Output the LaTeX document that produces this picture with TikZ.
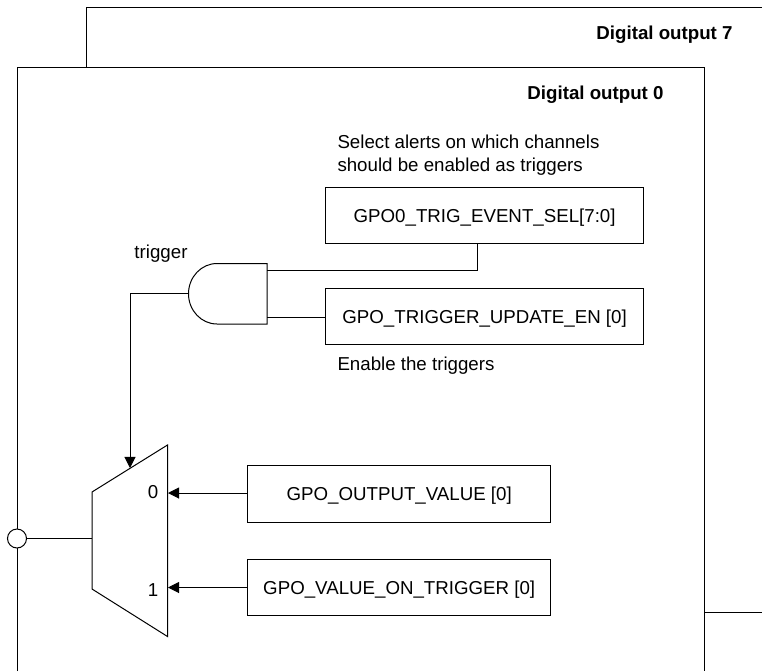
\documentclass[tikz,border=0pt]{standalone}
\usepackage{fontspec}
\setmainfont{Liberation Sans}
\usetikzlibrary{arrows.meta,positioning,calc}
\tikzset{every node/.append style={font=\fontsize{9.35}{11}\selectfont}}
\tikzset{label text/.style={text height=6.7pt,text depth=0pt},
	regbox/.style={draw,fill=white,minimum height=28.25pt,inner sep=0pt,label text},
	note/.style={inner sep=0pt,anchor=west,label text},
	title/.style={inner sep=0pt,label text,font=\fontsize{9.35}{11}\selectfont\bfseries},
	wire/.style={-{Triangle[length=5.6pt,width=5.6pt]}}}

\begin{document}
\begin{tikzpicture}[x=0.5pt,y=-0.5pt,line width=0.5pt,line join=miter]
	\useasboundingbox (0,0) rectangle (762,671);

	% back and front frames
	\draw (86,67) -- (86,7) -- (762,7);
	\draw (705,612) -- (762,612);
	\draw (17,671) -- (17,67) -- (704.5,67) -- (704.5,671);
	\node[title] (title7) at (664.5,32.7) {Digital output 7};
	\node[title] (title0) at (595.5,92.3) {Digital output 0};

	% registers
	\node[regbox,minimum width=159pt] (trigsel) at (484.6,215.5) {GPO0\_TRIG\_EVENT\_SEL[7:0]};
	\node[regbox,minimum width=159pt] (trigen) at (484.6,316.5) {GPO\_TRIGGER\_UPDATE\_EN [0]};
	\node[regbox,minimum width=151.5pt] (outval) at (399.2,494) {GPO\_OUTPUT\_VALUE [0]};
	\node[regbox,minimum width=151.5pt] (trigval) at (399.2,587.3) {GPO\_VALUE\_ON\_TRIGGER [0]};

	\node[note] (selnote) at (337,141.7) {Select alerts on which channels};
	\node[note] (selnote2) at (337,164.3) {should be enabled as triggers};
	\node[note] (ennote) at (337,363.3) {Enable the triggers};
	\node[inner sep=0pt,label text] (triglabel) at (161,251.5) {trigger};

	% and gate
	\coordinate (andtop) at (267,263.5);
	\coordinate (andbot) at (267,324);
	\coordinate (andout) at (188.5,293.5);
	\coordinate (andin0) at (267,270);
	\coordinate (andin1) at (267,317.7);
	\coordinate (seltap) at (477,243.8);
	\draw (andtop) -- (217,263.5) arc (-90:-270:28.5 and 30.25) -- (andbot) -- cycle;
	\draw (andin0) -| (seltap);
	\draw (andin1) -- (trigen.west |- andin1);

	% mux
	\coordinate (muxout) at (92,538.5);
	\coordinate (muxsel) at (130,468);
	\coordinate (mux0) at (168,493);
	\coordinate (mux1) at (168,587.5);
	\draw (92,492) -- (167.5,445) -- (167.5,636.5) -- (92,589) -- cycle;
	\node[inner sep=0pt,label text] (zero) at (153,491.7) {0};
	\node[inner sep=0pt,label text] (one) at (153,590) {1};

	\draw[wire] (andout) -| (muxsel);
	\draw[wire] (outval.west |- mux0) -- (mux0);
	\draw[wire] (trigval.west |- mux1) -- (mux1);

	\node[draw,fill=white,circle,minimum size=9.5pt,inner sep=0pt] (pin) at (17,538.5) {};
	\draw (pin) -- (muxout);
\end{tikzpicture}
\end{document}
